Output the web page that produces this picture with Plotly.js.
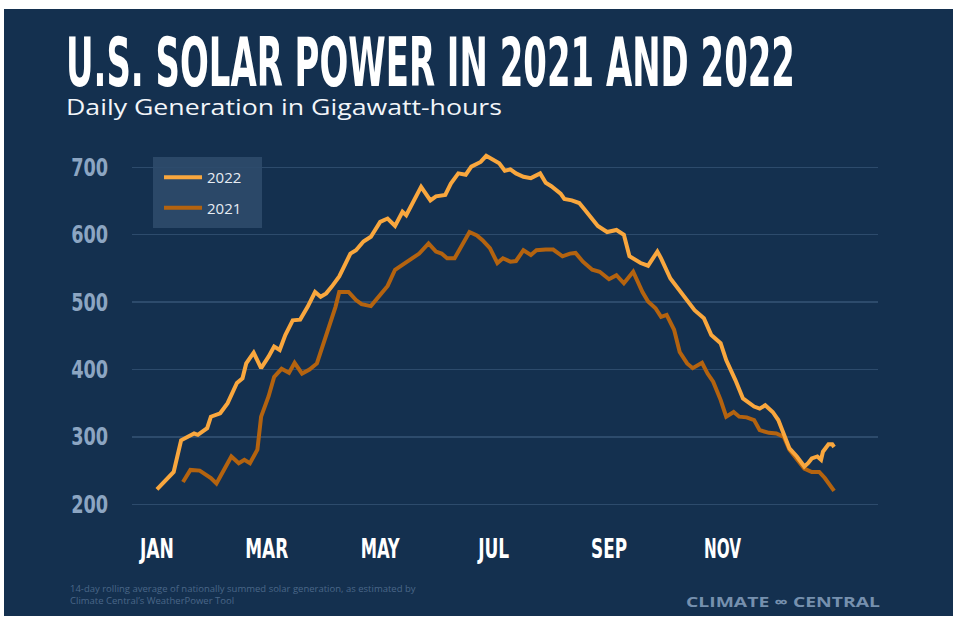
<!DOCTYPE html>
<html><head><meta charset="utf-8">
<script src="https://cdn.plot.ly/plotly-3.0.1.min.js"></script>
<style>
html,body{margin:0;padding:0;background:#ffffff;width:953px;height:622px;overflow:hidden}
#chart{position:absolute;left:4px;top:9px;width:949px;height:607px}
</style>
</head><body><div id="chart"></div>
<script>
// ---- data ----
const monthTickDays   = [0, 59, 120, 181, 243, 304];
const monthTickLabels = ['JAN', 'MAR', 'MAY', 'JUL', 'SEP', 'NOV'];
const yTickValues     = [200, 300, 400, 500, 600, 700];

// day of year (0 = Jan 1) and 14-day rolling average, GWh/day
const days2022 = [0,3,9,13,20,22,27,29,34,38,43,46,48,52,56,60,63,66,69,73,77,81,85,88,91,94,98,104,107,111,115,120,124,128,132,134,139,142,147,150,155,158,162,166,169,174,177,181,184,187,190,193,197,201,204,206,209,212,217,219,223,227,230,234,237,242,247,251,254,260,264,269,271,276,280,285,289,294,298,303,306,311,315,321,324,327,331,334,337,340,344,348,350,352,355,357,358,361,363,364];
const gwh2022  = [222,231,248,295,305,303,313,330,335,350,380,387,409,425,402,419,434,429,451,473,474,493,515,508,513,523,538,572,577,590,597,619,624,613,634,629,654,671,651,657,659,676,691,689,701,708,717,710,706,695,697,691,686,684,689,691,677,672,661,653,651,647,637,622,613,604,607,600,568,558,554,575,565,535,520,503,488,476,451,439,414,384,357,345,342,347,337,325,305,283,271,256,261,268,271,266,278,289,289,285];

const days2021 = [14,18,23,27,29,32,36,40,44,47,50,54,56,60,63,67,71,74,78,82,86,89,93,96,98,103,107,110,115,117,120,124,128,132,136,141,146,150,153,156,160,164,168,172,175,179,183,186,190,193,197,201,204,209,213,218,222,225,229,234,238,243,247,251,256,261,264,268,271,274,278,281,285,288,293,296,299,303,306,310,313,317,321,324,329,333,337,340,344,348,352,356,359,364];
const gwh2021  = [233,251,250,243,239,231,251,271,261,266,261,281,330,360,389,401,395,410,394,400,409,434,469,493,515,515,503,497,494,501,512,524,548,555,562,572,587,575,572,565,565,585,604,599,592,580,558,565,560,561,577,570,577,578,578,568,572,573,560,548,545,534,540,528,545,515,501,491,478,481,459,426,409,402,410,394,382,355,330,337,330,329,325,310,306,305,300,281,266,253,248,248,239,220];

const seriesNames  = ['2022', '2021'];
const seriesColors = ['#F9A73E', '#B4630F'];

// ---- styling ----
const NAVY = '#14304F';
const NARROW = "'Liberation Sans Narrow', 'DejaVu Sans Condensed', 'Arial Narrow', sans-serif";
const SANS = "'Open Sans', 'Noto Sans', sans-serif";

// plot area in page pixels: x 132..878, y 150..520
const px = x => (x - 132) / 746;
const py = y => (520 - y) / 370;

const traces = [
  {x: days2021, y: gwh2021, name: seriesNames[1], type: 'scatter', mode: 'lines',
   line: {color: seriesColors[1], width: 4}, legendrank: 2, legendgroup: 'b', hoverinfo: 'skip'},
  {x: days2022, y: gwh2022, name: seriesNames[0], type: 'scatter', mode: 'lines',
   line: {color: seriesColors[0], width: 4}, legendrank: 1, legendgroup: 'a', hoverinfo: 'skip'}
];

const layout = {
  width: 949, height: 607,
  paper_bgcolor: NAVY, plot_bgcolor: NAVY,
  margin: {l: 128, r: 75, t: 141, b: 96},
  showlegend: true,
  hovermode: false,
  title: {
    text: 'U.S. SOLAR POWER IN 2021 AND 2022',
    font: {family: NARROW, size: 67, color: '#FFFFFF', weight: 'bold'},
    xref: 'container', yref: 'container', x: 0.0653, xanchor: 'left',
    y: 0.95, yanchor: 'top'
  },
  xaxis: {
    range: [-13.4, 387.6], tickmode: 'array', tickvals: monthTickDays, ticktext: monthTickLabels,
    showgrid: false, zeroline: false, showline: false,
    ticks: 'outside', ticklen: 5, tickcolor: 'rgba(0,0,0,0)',
    tickfont: {family: NARROW, size: 27, color: '#FFFFFF', weight: 'bold'}
  },
  yaxis: {
    range: [176.7, 725.7], tickmode: 'array', tickvals: yTickValues,
    showgrid: true, gridcolor: '#2D4B6C', gridwidth: 1.5,
    zeroline: false, showline: false,
    ticks: 'outside', ticklen: 18, tickcolor: 'rgba(0,0,0,0)',
    tickfont: {family: NARROW, size: 24, color: '#8CA5C2', weight: 'bold'}
  },
  legend: {
    x: px(159), y: py(161), xanchor: 'left', yanchor: 'top',
    bgcolor: 'rgba(0,0,0,0)', borderwidth: 0,
    font: {family: SANS, size: 15, color: '#E6ECF3'},
    itemwidth: 38,
    tracegroupgap: 8, traceorder: 'grouped'
  },
  shapes: [
    {type: 'rect', xref: 'paper', yref: 'paper', layer: 'below',
     x0: px(153), x1: px(262), y0: py(228), y1: py(157),
     fillcolor: '#2B4868', line: {width: 0}}
  ],
  annotations: [
    {text: 'Daily Generation in Gigawatt-hours', xref: 'paper', yref: 'paper',
     x: px(66), y: py(106), xanchor: 'left', yanchor: 'middle', showarrow: false,
     font: {family: SANS, size: 22, color: '#F2F5F9'}},
    {text: '14-day rolling average of nationally summed solar generation, as estimated by<br>Climate Central\u2019s WeatherPower Tool',
     xref: 'paper', yref: 'paper', x: px(68), y: py(594), xanchor: 'left', yanchor: 'middle',
     align: 'left', showarrow: false,
     font: {family: SANS, size: 9.5, color: '#4A6788'}},
    {text: 'CLIMATE \u221E CENTRAL', xref: 'paper', yref: 'paper',
     x: px(686), y: py(601), xanchor: 'left', yanchor: 'middle', showarrow: false,
     font: {family: SANS, size: 14, color: '#7690AE', weight: 'bold'}}
  ]
};

function squeeze(el, target) {
  if (!el) return;
  el.removeAttribute('textLength');
  el.removeAttribute('lengthAdjust');
  el.setAttribute('textLength', target);
  el.setAttribute('lengthAdjust', 'spacingAndGlyphs');
}
function shiftLeftTo(el, pageX) {
  if (!el) return;
  el.removeAttribute('transform');
  const r = el.getBoundingClientRect();
  const dx = pageX - r.left;
  el.setAttribute('transform', 'translate(' + dx + ',0)');
}
function fixText() {
  const gd = document.getElementById('chart');
  const title = gd.querySelector('.gtitle');
  squeeze(title, 729);
  const ann = gd.querySelectorAll('.annotation-text');
  if (ann[0]) { squeeze(ann[0], 436); shiftLeftTo(ann[0], 66); }
  if (ann[2]) { squeeze(ann[2], 194); shiftLeftTo(ann[2], 686); }
  const widths = [34, 43, 39, 31, 36, 37];
  gd.querySelectorAll('.xtick text').forEach((t, i) => squeeze(t, widths[i] || 36));
  gd.querySelectorAll('.ytick text').forEach(t => {
    t.removeAttribute('textLength');
    const w = t.getComputedTextLength();
    squeeze(t, (w * 0.82).toFixed(1));
  });
}

Plotly.newPlot('chart', traces, layout, {displayModeBar: false, staticPlot: true}).then(fixText);
</script>
</body></html>
